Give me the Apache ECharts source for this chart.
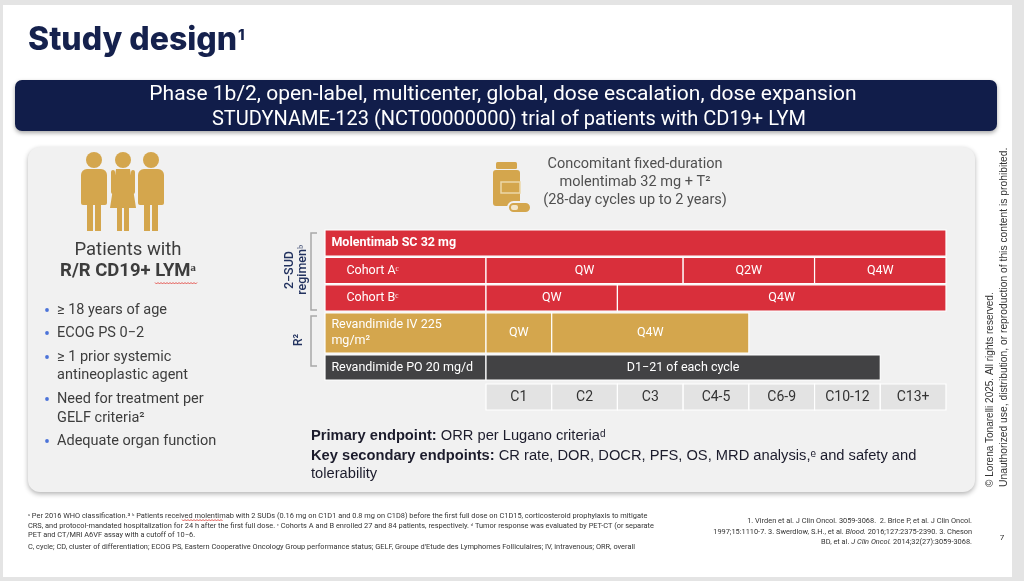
<!DOCTYPE html>
<html>
<head>
<meta charset="utf-8">
<script src="https://cdn.jsdelivr.net/npm/echarts@6/dist/echarts.min.js"></script>
<style>
    html, body { margin: 0; padding: 0; background: #e4e4e4; }
    #main { width: 1024px; height: 581px; }
</style>
</head>
<body>
<div id="main"></div>
<script>
// 数据
const cycles = ['C1', 'C2', 'C3', 'C4-5', 'C6-9', 'C10-12', 'C13+']
const rowLabels = ['Molentimab SC 32 mg', 'Cohort Aᶜ', 'Cohort Bᶜ', 'Revandimide IV 225\nmg/m²', 'Revandimide PO 20 mg/d']
// [label, from cycle, to cycle]
const cohortA = [['QW', 0, 3], ['Q2W', 3, 5], ['Q4W', 5, 7]]
const cohortB = [['QW', 0, 2], ['Q4W', 2, 7]]
const revIV = [['QW', 0, 1], ['Q4W', 1, 4]]
const revPO = [['D1−21 of each cycle', 0, 6]]
const bullets = ['≥ 18 years of age', 'ECOG PS 0−2', '≥ 1 prior systemic\nantineoplastic agent', 'Need for treatment per\nGELF criteria²', 'Adequate organ function']

// 布局
const LABEL_W = 2.45
const bands = [[0, 26], [27.5, 53.5], [55, 81], [83, 123], [125, 150], [154, 180]]
const RED = '#d92f3b', GOLD = '#d4a64d', DARK = '#424244', CELL = '#e3e3e3', NAVY = '#15214d', PANEL = '#f1f1f1'

let items = []
function addRow(row, segs, color, txtColor, font) {
    segs.forEach(s => items.push({ value: [row, s[1], s[2]], label: s[0], color, txtColor: txtColor || '#fff', font: font || '12.5px Roboto', pos: 'inside' }))
}
items.push({ value: [0, -LABEL_W, cycles.length], label: rowLabels[0], color: RED, txtColor: '#fff', font: 'bold 12.5px Roboto', pos: 'insideLeft', dist: 7 })
items.push({ value: [1, -LABEL_W, 0], label: rowLabels[1], color: RED, txtColor: '#fff', font: '12.5px Roboto', pos: 'insideLeft', dist: 22 })
addRow(1, cohortA, RED)
items.push({ value: [2, -LABEL_W, 0], label: rowLabels[2], color: RED, txtColor: '#fff', font: '12.5px Roboto', pos: 'insideLeft', dist: 22 })
addRow(2, cohortB, RED)
items.push({ value: [3, -LABEL_W, 0], label: rowLabels[3], color: GOLD, txtColor: '#fff', font: '12.5px Roboto', pos: 'insideLeft', dist: 7 })
addRow(3, revIV, GOLD)
items.push({ value: [4, -LABEL_W, 0], label: rowLabels[4], color: DARK, txtColor: '#fff', font: '12.5px Roboto', pos: 'insideLeft', dist: 7 })
addRow(4, revPO, DARK)
addRow(5, cycles.map((c, i) => [c, i, i + 1]), CELL, '#333', '14px Roboto')

function renderItem(params, api) {
    let it = items[params.dataIndex]
    let b = bands[api.value(0)]
    let p0 = api.coord([api.value(1), b[0]])
    let p1 = api.coord([api.value(2), b[1]])
    return {
        type: 'rect',
        shape: { x: p0[0], y: p0[1], width: p1[0] - p0[0], height: p1[1] - p0[1] },
        style: { fill: it.color, stroke: '#fff', lineWidth: 1.2 },
        textContent: { style: { text: it.label, fill: it.txtColor, font: it.font, lineHeight: 16 } },
        textConfig: { position: it.pos, distance: it.dist || 0 }
    }
}

function txt(x, y, text, o = {}) {
    let al = o.align || 'left', va = o.va || 'middle'
    return {
        type: 'text', x: x, y: y, rotation: o.rot || 0, z: 20,
        style: {
            text: text, x: 0, y: 0, font: o.font || '14px Roboto', fill: o.fill || '#3d3d3d',
            align: al, verticalAlign: va, textAlign: al, textVerticalAlign: va,
            rich: o.rich, lineHeight: o.lh
        }
    }
}
function rect(x, y, w, h, fill, o = {}) {
    return { type: 'rect', z: o.z || 5, shape: { x, y, width: w, height: h, r: o.r || 0 }, style: Object.assign({ fill }, o.style || {}) }
}
function squiggle(x0, x1, y) {
    let pts = []
    for (let x = x0, k = 0; x <= x1; x += 1.5, k++) pts.push([x, y + (k % 2 ? 1 : -0.5)])
    return { type: 'polyline', z: 21, shape: { points: pts }, style: { stroke: '#e0302a', lineWidth: 0.8, fill: null } }
}
function person(cx, woman) {
    let g = [{ type: 'circle', z: 6, shape: { cx, cy: 160, r: 8 }, style: { fill: GOLD } }]
    if (woman) {
        g.push({ type: 'polygon', z: 6, shape: { points: [[cx - 7, 169], [cx + 7, 169], [cx + 13, 208], [cx - 13, 208]] }, style: { fill: GOLD } })
        g.push(rect(cx - 6, 205, 5, 26, GOLD, { z: 6 }), rect(cx + 1, 205, 5, 26, GOLD, { z: 6 }))
        g.push(rect(cx - 12, 170, 4, 24, GOLD, { z: 6, r: 2 }), rect(cx + 8, 170, 4, 24, GOLD, { z: 6, r: 2 }))
    } else {
        g.push(rect(cx - 13, 169, 26, 36, GOLD, { z: 6, r: [6, 6, 2, 2] }))
        g.push(rect(cx - 7, 200, 6, 31, GOLD, { z: 6 }), rect(cx + 1, 200, 6, 31, GOLD, { z: 6 }))
    }
    return g
}

let graphics = [
    rect(3, 5, 1009, 572, '#fff', { z: 1 }),
    // 标题
    txt(28, 40, 'Study design', { font: '800 32px Inter', fill: NAVY }),
    txt(238, 35, '1', { font: '800 15px Inter', fill: NAVY }),
    // 横幅
    rect(15, 80, 982, 51, '#111d4a', { z: 3, r: 7, style: { shadowBlur: 4, shadowOffsetY: 2, shadowColor: 'rgba(0,0,0,0.35)' } }),
    txt(503, 95, 'Phase 1b/2, open-label, multicenter, global, dose escalation, dose expansion', { font: '21px Roboto', fill: '#fff', align: 'center' }),
    txt(509, 120, 'STUDYNAME-123 (NCT00000000) trial of patients with CD19+ LYM', { font: '20px Roboto', fill: '#fff', align: 'center' }),
    // 面板
    rect(28, 147, 947, 345, PANEL, { z: 2, r: 12, style: { shadowBlur: 5, shadowOffsetY: 2, shadowColor: 'rgba(0,0,0,0.3)' } }),
    // 患者
    txt(128, 250, 'Patients with', { font: '18.5px Roboto', align: 'center' }),
    txt(128, 271, 'R/R CD19+ LYMᵃ', { font: 'bold 18.5px Roboto', align: 'center' }),
    squiggle(155, 198, 283),
    // 药瓶
    rect(496, 162, 21, 7, GOLD, { z: 6, r: 1.5 }),
    rect(493, 170, 27, 36, GOLD, { z: 6, r: 3 }),
    rect(501, 182, 19, 11, GOLD, { z: 7, style: { stroke: '#ecd7a8', lineWidth: 1.5 } }),
    rect(508, 202, 23, 11, GOLD, { z: 8, r: 5.5, style: { stroke: PANEL, lineWidth: 2 } }),
    rect(511, 205, 7, 5, '#f3e6c8', { z: 9, r: 2 }),
    txt(635, 164, 'Concomitant fixed-duration', { font: '14.5px Roboto', fill: '#505050', align: 'center' }),
    txt(635, 182, 'molentimab 32 mg + T²', { font: '14.5px Roboto', fill: '#505050', align: 'center' }),
    txt(635, 200, '(28-day cycles up to 2 years)', { font: '14.5px Roboto', fill: '#505050', align: 'center' }),
    // 括号
    { type: 'polyline', z: 6, shape: { points: [[317, 233], [311, 233], [311, 310], [317, 310]] }, style: { stroke: '#a8a8a8', lineWidth: 1.5, fill: null } },
    { type: 'polyline', z: 6, shape: { points: [[317, 316], [311, 316], [311, 366], [317, 366]] }, style: { stroke: '#a8a8a8', lineWidth: 1.5, fill: null } },
    txt(296, 270, '2−SUD\nregimenᵇ', { font: '500 12.5px Roboto', fill: '#22325f', align: 'center', rot: Math.PI / 2, lh: 13 }),
    txt(299, 340, 'R²', { font: '500 12.5px Roboto', fill: '#22325f', align: 'center', rot: Math.PI / 2 }),
    // 终点
    txt(311, 436, '{b|Primary endpoint:} ORR per Lugano criteriaᵈ', { font: '14.7px "Liberation Sans"', fill: '#1c1c2c', rich: { b: { font: 'bold 14.7px "Liberation Sans"', fill: '#1c1c2c' } } }),
    txt(311, 456, '{b|Key secondary endpoints:} CR rate, DOR, DOCR, PFS, OS, MRD analysis,ᵉ and safety and', { font: '14.7px "Liberation Sans"', fill: '#1c1c2c', rich: { b: { font: 'bold 14.7px "Liberation Sans"', fill: '#1c1c2c' } } }),
    txt(311, 474, 'tolerability', { font: '14.7px "Liberation Sans"', fill: '#1c1c2c' }),
    // 版权
    txt(990, 487, '© Lorena Tonarelli 2025. All rights reserved.', { font: '10px "Liberation Sans"', fill: '#333', rot: Math.PI / 2 }),
    txt(1004, 487, 'Unauthorized use, distribution, or reproduction of this content is prohibited.', { font: '10.3px "Liberation Sans"', fill: '#333', rot: Math.PI / 2 }),
    // 脚注
    txt(28, 516, 'ᵃ Per 2016 WHO classification.³ ᵇ Patients received molentimab with 2 SUDs (0.16 mg on C1D1 and 0.8 mg on C1D8) before the first full dose on C1D15, corticosteroid prophylaxis to mitigate', { font: '7.4px Roboto', fill: '#333' }),
    txt(28, 526, 'CRS, and protocol-mandated hospitalization for 24 h after the first full dose. ᶜ Cohorts A and B enrolled 27 and 84 patients, respectively. ᵈ Tumor response was evaluated by PET-CT (or separate', { font: '7.4px Roboto', fill: '#333' }),
    txt(28, 535, 'PET and CT/MRI A6VF assay with a cutoff of 10−6.', { font: '7.4px Roboto', fill: '#333' }),
    txt(28, 547, 'C, cycle; CD, cluster of differentiation; ECOG PS, Eastern Cooperative Oncology Group performance status; GELF, Groupe d\'Etude des Lymphomes Folliculaires; IV, intravenous; ORR, overall', { font: '7.4px Roboto', fill: '#333' }),
    squiggle(182, 223, 520),
    txt(972, 521, '1. Virden et al. J Clin Oncol. 3059-3068.  2. Brice P, et al. J Clin Oncol.', { font: '7.4px Roboto', fill: '#333', align: 'right' }),
    txt(972, 532, '1997;15:1110-7. 3. Swerdlow, S.H., et al. {i|Blood.} 2016;127:2375-2390. 3. Cheson', { font: '7.4px Roboto', fill: '#333', align: 'right', rich: { i: { font: 'italic 7.4px Roboto', fill: '#333' } } }),
    txt(972, 542, 'BD, et al. {i|J Clin Oncol.} 2014;32(27):3059-3068.', { font: '7.4px Roboto', fill: '#333', align: 'right', rich: { i: { font: 'italic 7.4px Roboto', fill: '#333' } } }),
    txt(1002, 538, '7', { font: '8px Roboto', fill: '#333', align: 'center' })
]
graphics = graphics.concat(person(94, false), person(123, true), person(151, false))

// 项目符号
let by = [310, 333, 357, 399, 441]
let lineY = [[310], [333], [357, 375], [399, 418], [441]]
bullets.forEach((b, i) => {
    graphics.push({ type: 'circle', z: 20, shape: { cx: 47, cy: by[i], r: 1.9 }, style: { fill: '#4b73d9' } })
    b.split('\n').forEach((line, j) => graphics.push(txt(57, lineY[i][j], line, { font: '14.5px Roboto' })))
})

var myChart = echarts.init(document.getElementById('main'))
var option = {
    animation: false,
    grid: { left: 325, top: 230, width: 621, height: 180 },
    xAxis: { type: 'value', min: -LABEL_W, max: cycles.length, show: false },
    yAxis: { type: 'value', min: 0, max: 180, inverse: true, show: false },
    graphic: { elements: graphics },
    series: [{
        type: 'custom',
        renderItem: renderItem,
        data: items.map(it => it.value),
        clip: false,
        z: 10
    }]
}
myChart.setOption(option)
</script>
</body>
</html>
